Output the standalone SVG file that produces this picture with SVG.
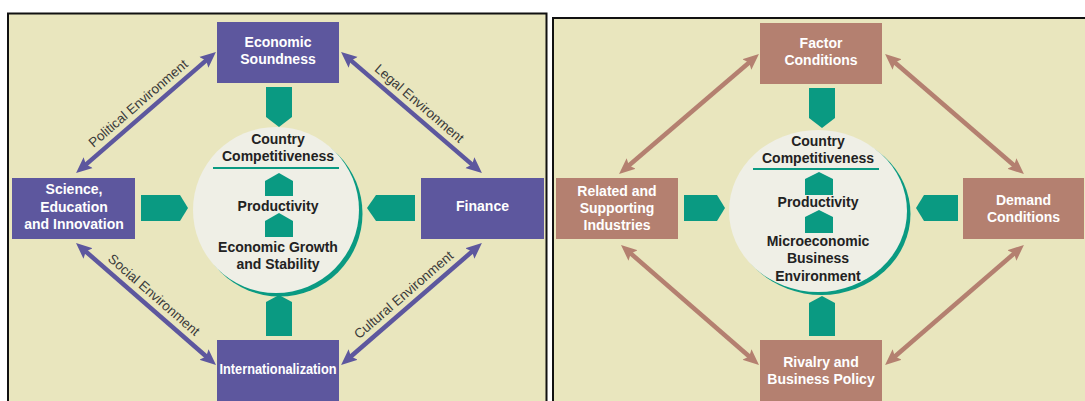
<svg xmlns="http://www.w3.org/2000/svg" width="1085" height="401" viewBox="0 0 1085 401">
<defs>
<style>
.panel{fill:#E9E6BE;stroke:#111;stroke-width:2}
.pbox{fill:#5D579E}
.bbox{fill:#B48070}
.bt{font-family:"Liberation Sans",Arial,sans-serif;font-weight:bold;font-size:14px;fill:#fff;text-anchor:middle}
.ct{font-family:"Liberation Sans",Arial,sans-serif;font-weight:bold;font-size:14px;fill:#222;text-anchor:middle}
.lt{font-family:"Liberation Sans",Arial,sans-serif;font-size:13.5px;fill:#3a3a3a;text-anchor:middle}
.teal{fill:#0A9A82}
.disc{fill:#EFEFE6}
.pl{stroke:#5D579E;stroke-width:4.5;fill:none;marker-start:url(#hp);marker-end:url(#hp)}
.bl{stroke:#B48070;stroke-width:4.5;fill:none;marker-start:url(#hb);marker-end:url(#hb)}
</style>
<marker id="hp" markerUnits="userSpaceOnUse" markerWidth="17" markerHeight="15" viewBox="0 0 17 15" refX="5" refY="7.5" orient="auto-start-reverse"><path d="M0,0.5 L16,7.5 L0,14.5 L3,7.5 z" fill="#5D579E"/></marker>
<marker id="hb" markerUnits="userSpaceOnUse" markerWidth="17" markerHeight="15" viewBox="0 0 17 15" refX="5" refY="7.5" orient="auto-start-reverse"><path d="M0,0.5 L16,7.5 L0,14.5 L3,7.5 z" fill="#B48070"/></marker>
</defs>
<rect x="0" y="0" width="1085" height="401" fill="#fff"/>
<rect class="panel" x="8" y="13.5" width="538.5" height="400"/>
<rect class="panel" x="553" y="18" width="540" height="400"/>

<g id="connectors">
<path class="pl" d="M84.4,165.9 L207.6,59.1"/>
<path class="pl" d="M349.4,59.1 L473.6,165.9"/>
<path class="pl" d="M84.3,250.2 L207.7,357.8"/>
<path class="pl" d="M349.4,357.8 L473.6,250.2"/>
<text class="lt" transform="translate(146,112.5) rotate(-40.8)" y="-7.5">Political Environment</text>
<text class="lt" transform="translate(411.5,112.5) rotate(40.6)" y="-7.5">Legal Environment</text>
<text class="lt" transform="translate(146,304) rotate(41.1)" y="-7.5">Social Environment</text>
<text class="lt" transform="translate(411.5,304) rotate(-40.9)" y="-7.5">Cultural Environment</text>
<path class="bl" d="M627.4,166.8 L750.6,61.2"/>
<path class="bl" d="M893.4,61.2 L1015.6,166.8"/>
<path class="bl" d="M629.3,252.2 L750.7,357.8"/>
<path class="bl" d="M893.4,357.8 L1015.6,252.2"/>
<path class="teal" d="M266,87 H292 V117 L279,127 L266,117 z"/>
<path class="teal" d="M266,336 H292 V302 L279,295 L266,302 z"/>
<path class="teal" d="M141,195 H180 L188,208 L180,221 H141 z"/>
<path class="teal" d="M415,195 H376 L367,208 L376,221 H415 z"/>
<path class="teal" d="M809,88 H835 V118 L822,128 L809,118 z"/>
<path class="teal" d="M809,336 H835 V303 L822,296 L809,303 z"/>
<path class="teal" d="M684,195 H717 L725,208 L717,221 H684 z"/>
<path class="teal" d="M958,195 H924 L916,208 L924,221 H958 z"/>
</g>

<g id="core-left">
<circle class="teal" cx="279.5" cy="213.5" r="83"/>
<circle class="disc" cx="276" cy="210" r="83"/>
<text class="ct" x="278" y="144">Country</text>
<text class="ct" x="278" y="161">Competitiveness</text>
<rect class="teal" x="213" y="167" width="126" height="2"/>
<path class="teal" d="M265,181 L279,173 L293,181 V196 H265 z"/>
<text class="ct" x="278" y="210.5">Productivity</text>
<path class="teal" d="M265,221 L279,213 L293,221 V237 H265 z"/>
<text class="ct" x="278" y="252">Economic Growth</text>
<text class="ct" x="278" y="269">and Stability</text>
</g>

<g id="economic-soundness">
<rect class="pbox" x="217" y="22" width="122" height="61"/>
<text class="bt" x="278" y="47">Economic</text>
<text class="bt" x="278" y="64">Soundness</text>
</g>
<g id="science">
<rect class="pbox" x="12" y="178" width="123" height="61"/>
<text class="bt" x="74" y="194">Science,</text>
<text class="bt" x="74" y="212">Education</text>
<text class="bt" x="74" y="229">and Innovation</text>
</g>
<g id="finance">
<rect class="pbox" x="421" y="178" width="123" height="61"/>
<text class="bt" x="482.5" y="211">Finance</text>
</g>
<g id="internationalization">
<rect class="pbox" x="217" y="340" width="122" height="70"/>
<text class="bt" x="278" y="374" textLength="117" lengthAdjust="spacingAndGlyphs">Internationalization</text>
</g>

<g id="core-right">
<ellipse class="teal" cx="821.5" cy="214" rx="89" ry="81"/>
<ellipse class="disc" cx="818" cy="211" rx="89" ry="81"/>
<text class="ct" x="818" y="146">Country</text>
<text class="ct" x="818" y="163">Competitiveness</text>
<rect class="teal" x="753" y="168" width="126" height="2"/>
<path class="teal" d="M805,179 L819,172 L833,179 V195 H805 z"/>
<text class="ct" x="818" y="207">Productivity</text>
<path class="teal" d="M805,217 L819,210 L833,217 V233 H805 z"/>
<text class="ct" x="818" y="246">Microeconomic</text>
<text class="ct" x="818" y="263">Business</text>
<text class="ct" x="818" y="281">Environment</text>
</g>

<g id="factor-conditions">
<rect class="bbox" x="760" y="23" width="122" height="61"/>
<text class="bt" x="821" y="48">Factor</text>
<text class="bt" x="821" y="65">Conditions</text>
</g>
<g id="related-supporting">
<rect class="bbox" x="556" y="178" width="122" height="61"/>
<text class="bt" x="617" y="196">Related and</text>
<text class="bt" x="617" y="213">Supporting</text>
<text class="bt" x="617" y="230">Industries</text>
</g>
<g id="demand-conditions">
<rect class="bbox" x="963" y="178" width="121" height="61"/>
<text class="bt" x="1023.5" y="205">Demand</text>
<text class="bt" x="1023.5" y="222">Conditions</text>
</g>
<g id="rivalry">
<rect class="bbox" x="760" y="340" width="122" height="70"/>
<text class="bt" x="821" y="367">Rivalry and</text>
<text class="bt" x="821" y="384">Business Policy</text>
</g>
</svg>
